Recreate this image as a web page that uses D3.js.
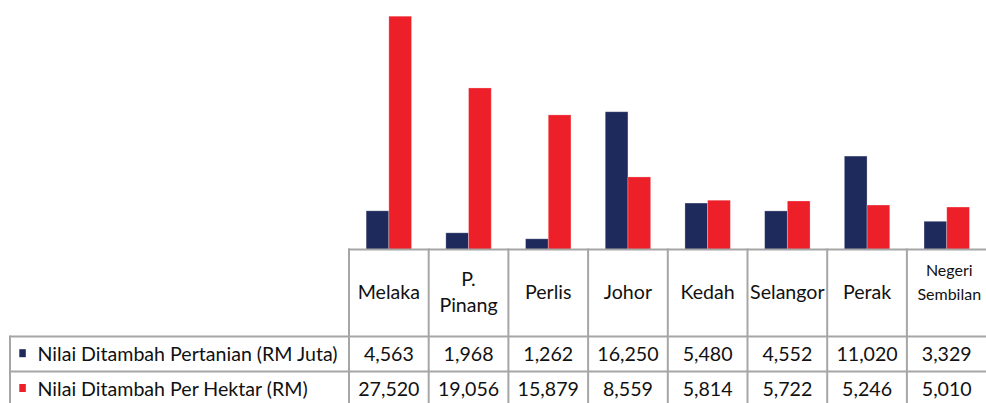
<!DOCTYPE html>
<html>
<head>
<meta charset="utf-8">
<script src="https://cdn.jsdelivr.net/npm/d3@7/dist/d3.min.js"></script>
<style>
  html, body { margin: 0; padding: 0; background: #fff; }
  svg { display: block; }
  text { font-family: Lato, "Open Sans", sans-serif; fill: #111; }
</style>
</head>
<body>
<svg id="chart" width="986" height="403"></svg>
<script>
const categories = ["Melaka", "P.\nPinang", "Perlis", "Johor", "Kedah", "Selangor", "Perak", "Negeri\nSembilan"];
const seriesNames = ["Nilai Ditambah Pertanian (RM Juta)", "Nilai Ditambah Per Hektar (RM)"];
const pertanian = [4563, 1968, 1262, 16250, 5480, 4552, 11020, 3329];
const perHektar = [27520, 19056, 15879, 8559, 5814, 5722, 5246, 5010];
const seriesColors = ["#1f2a5c", "#ed1f28"];

const series = [pertanian, perHektar];
const svg = d3.select("#chart");

const plotLeft = 349, plotRight = 986.6;
const baseY = 249.5;
const headerBottom = 336.5, row1Bottom = 371.5, tableBottom = 420;
const legendLeft = 10;
const gridColor = "#a6a6a6";
const fontMain = 19.6, fontSmall = 16;

const x0 = d3.scaleBand().domain(d3.range(categories.length))
  .range([plotLeft, plotRight]).paddingInner(0.43).paddingOuter(0.215);
const x1 = d3.scaleBand().domain(d3.range(series.length)).range([0, x0.bandwidth()]);
const y = d3.scaleLinear().domain([0, 29430]).range([baseY, 0]);
const col = d3.scaleBand().domain(d3.range(categories.length)).range([plotLeft, plotRight]);

// bars
const groups = svg.append("g").selectAll("g").data(categories).join("g")
  .attr("transform", (d, i) => `translate(${x0(i)},0)`);
groups.selectAll("rect").data((d, i) => series.map((s, j) => ({ j, v: s[i] }))).join("rect")
  .attr("x", d => x1(d.j))
  .attr("width", x1.bandwidth())
  .attr("y", d => y(d.v))
  .attr("height", d => baseY - y(d.v))
  .attr("fill", d => seriesColors[d.j])
  .attr("stroke", "rgba(255,255,255,0.35)")
  .attr("stroke-width", 0.8);

// table grid
const grid = svg.append("g").attr("stroke", gridColor).attr("stroke-width", 2).attr("fill", "none");
grid.append("line").attr("x1", plotLeft - 1).attr("x2", plotRight).attr("y1", baseY).attr("y2", baseY);
grid.append("line").attr("x1", legendLeft).attr("x2", plotRight).attr("y1", headerBottom).attr("y2", headerBottom);
grid.append("line").attr("x1", legendLeft).attr("x2", plotRight).attr("y1", row1Bottom).attr("y2", row1Bottom);
grid.append("line").attr("x1", legendLeft).attr("x2", legendLeft).attr("y1", headerBottom - 1).attr("y2", tableBottom);
categories.forEach((c, i) => {
  grid.append("line").attr("x1", col(i)).attr("x2", col(i)).attr("y1", baseY - 1).attr("y2", tableBottom);
});

// header labels
const header = svg.append("g");
categories.forEach((c, i) => {
  const lines = c.split("\n");
  const small = c.startsWith("Negeri");
  const t = header.append("text")
    .attr("text-anchor", "middle")
    .attr("font-size", small ? fontSmall : fontMain);
  const cx = col(i) + col.bandwidth() / 2 + (small ? 2.5 : 0);
  let baselines;
  if (small) baselines = [276, 300];
  else if (lines.length === 2) baselines = [285.7, 311.7];
  else baselines = [299.3];
  lines.forEach((ln, k) => {
    t.append("tspan").attr("x", cx).attr("y", baselines[k]).text(ln);
  });
});

// value rows
const rowBaselines = [360.7, 395.5];
const fmt = d3.format(",");
series.forEach((s, j) => {
  svg.append("g").selectAll("text").data(s).join("text")
    .attr("x", (d, i) => col(i) + col.bandwidth() / 2)
    .attr("y", rowBaselines[j])
    .attr("text-anchor", "middle")
    .attr("font-size", fontMain)
    .text(d => fmt(d));
  // legend key
  svg.append("rect")
    .attr("x", 19.3).attr("y", rowBaselines[j] - 11.5)
    .attr("width", 6.5).attr("height", 8)
    .attr("fill", seriesColors[j]);
  svg.append("text")
    .attr("x", 37.5).attr("y", rowBaselines[j])
    .attr("font-size", fontMain)
    .text(seriesNames[j]);
});
</script>
</body>
</html>
